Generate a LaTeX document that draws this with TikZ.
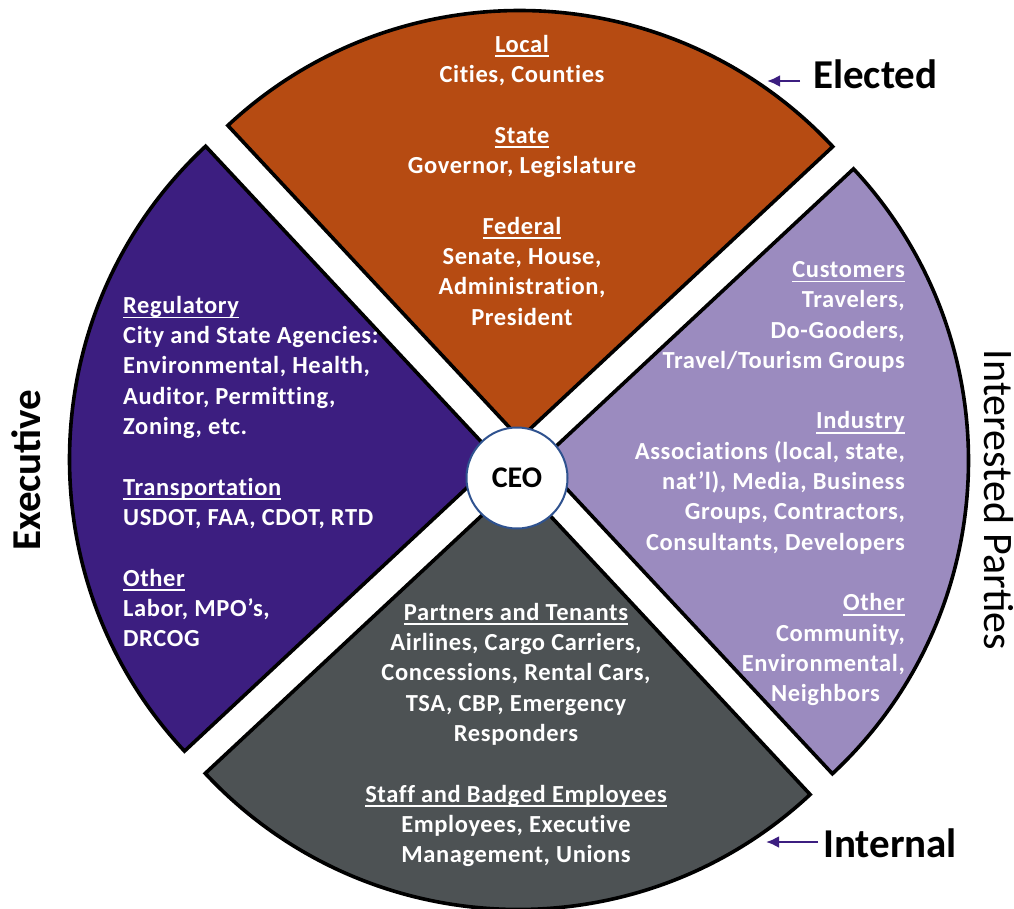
\documentclass[tikz,border=0pt]{standalone}
\usepackage{fontspec}
\setmainfont{Carlito}
\newfontfamily\secfam{Carlito}[LetterSpace=2.5, Ligatures=NoCommon]
\usetikzlibrary{arrows.meta}
\definecolor{cOrange}{RGB}{182,75,18}
\definecolor{cPurple}{RGB}{60,30,128}
\definecolor{cLav}{RGB}{155,139,191}
\definecolor{cGray}{RGB}{77,82,84}
\definecolor{cRing}{RGB}{47,82,143}
\newcommand\ulx[1]{\setbox0\hbox{#1}\rlap{\rule[-5pt]{\wd0}{1.8pt}}\box0}
\begin{document}
\begin{tikzpicture}[x=1pt,y=1pt,
  sector/.style={draw=black, line width=3.6pt, line join=miter},
  sectext/.style={text=white, font=\secfam\fontsize{24.5}{30.3}\selectfont\bfseries, inner sep=0pt},
  side/.style={font=\fontsize{41}{48}\selectfont\bfseries, inner sep=0pt},
  pointer/.style={draw=cPurple, line width=2.5pt, -{Latex[length=13pt,width=12pt]}}]
\useasboundingbox (0,0) rectangle (1014,-909);
\coordinate (C) at (519,-460);
% sectors
\path[sector, fill=cOrange] (C) ++(88:21.5) -- ++(133:428) arc[start angle=133, end angle=43, radius=428] -- cycle;
\path[sector, fill=cLav] (C) ++(-2:21.5) -- ++(43:428) arc[start angle=43, end angle=-47, radius=428] -- cycle;
\path[sector, fill=cGray] (C) ++(268:21.5) -- ++(-47:428) arc[start angle=-47, end angle=-137, radius=428] -- cycle;
\path[sector, fill=cPurple] (C) ++(178:21.5) -- ++(223:428) arc[start angle=223, end angle=133, radius=428] -- cycle;
% sector texts (anchored at the baseline of their last line)
\node[sectext, align=center, anchor=base] (elec) at (522,-325)
 {\ulx{Local}\\Cities, Counties\\[30.3pt]\ulx{State}\\Governor, Legislature\\[30.3pt]\ulx{Federal}\\Senate, House,\\Administration,\\President};
\node[sectext, align=left, anchor=base west] (execT) at (123,-646.6)
 {\ulx{Regulatory}\\City and State Agencies:\\Environmental, Health,\\Auditor, Permitting,\\Zoning, etc.\\[30.3pt]\ulx{Transportation}\\USDOT, FAA, CDOT, RTD\\[30.3pt]\ulx{Other}\\Labor, MPO’s,\\DRCOG};
\node[sectext, align=right, anchor=base east] (intT) at (905,-701.6)
 {\ulx{Customers}\\Travelers,\\Do-Gooders,\\Travel/Tourism Groups\\[30.3pt]\ulx{Industry}\\Associations (local, state,\\nat’l), Media, Business\\Groups, Contractors,\\Consultants, Developers\\[30.3pt]\ulx{Other}\\Community,\\Environmental,\\Neighbors\hspace*{25pt}};
\node[sectext, align=center, anchor=base] (internT) at (516,-862.6)
 {\ulx{Partners and Tenants}\\Airlines, Cargo Carriers,\\Concessions, Rental Cars,\\TSA, CBP, Emergency\\Responders\\[30.3pt]\ulx{Staff and Badged Employees}\\Employees, Executive\\Management, Unions};
% centre
\node[circle, draw=cRing, line width=2pt, fill=white, minimum size=101pt, inner sep=0pt,
      font=\fontsize{30}{36}\selectfont\bfseries] (ceo) at (517,-478) {CEO};
% side labels
\node[side, anchor=base west] (elected) at (813,-89) {Elected};
\node[side, anchor=base west] (internal) at (823,-857) {Internal};
\node[side, rotate=90, anchor=base] (executive) at (40,-470) {Executive};
\node[font=\fontsize{42}{50}\selectfont, inner sep=0pt, rotate=-90, anchor=base] (interested) at (984,-500) {Interested Parties};
\coordinate (electedTip) at (767,-81);
\coordinate (internalTip) at (766,-842);
\draw[pointer] ([shift={(-13,8)}]elected.base west) -- (electedTip);
\draw[pointer] ([shift={(-5,15)}]internal.base west) -- (internalTip);
\end{tikzpicture}
\end{document}
